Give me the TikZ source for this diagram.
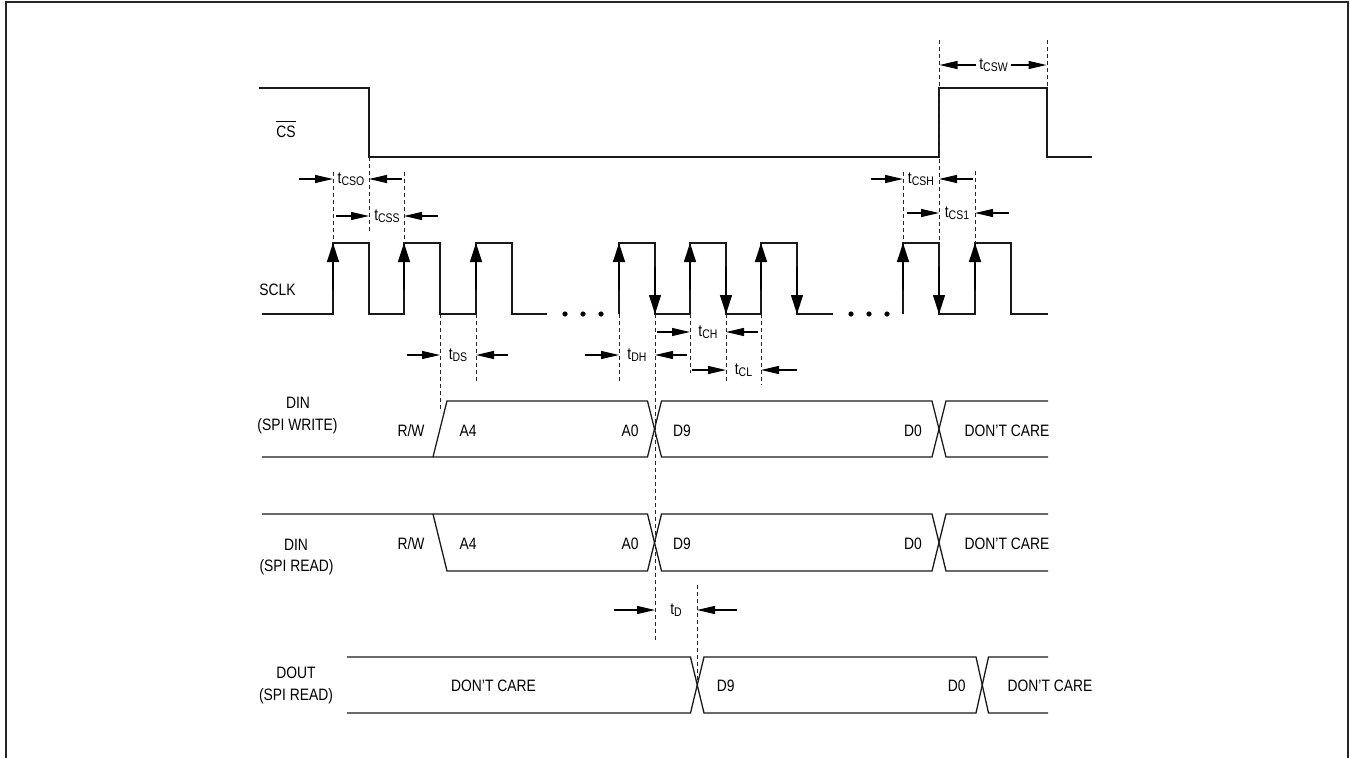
\documentclass[tikz,border=0pt]{standalone}
\usepackage{fontspec}
\setmainfont{Liberation Sans}[FakeStretch=0.84]
\usetikzlibrary{arrows.meta}
\newcommand{\tlab}[1]{t\raisebox{-2pt}{\fontsize{12.5}{14}\selectfont #1}}
\begin{document}
\begin{tikzpicture}[x=1pt,y=-1pt,
  sig/.style={line width=1.3pt, line join=miter, draw=black!90},
  dsh/.style={line width=0.9pt, dash pattern=on 4pt off 3pt, draw=black!85},
  tarr/.style={line width=1.1pt, draw=black, -{Triangle[length=18pt,width=8pt]}},
  carr/.style={line width=1.3pt, draw=black, -{Triangle[length=19pt,width=12pt]}},
  lbl/.style={font=\fontsize{16.5}{19}\selectfont, inner sep=0pt, anchor=base},
  tl/.style={font=\fontsize{16.5}{19}\selectfont, inner sep=0pt, anchor=base}
  ]
\useasboundingbox (0,0) rectangle (1350,758);
% frame
\draw[line width=2pt, draw=black!85] (6,760) -- (6,2) -- (1348,2) -- (1348,760);

% CS
\draw[sig] (259,88) -- (369,88) -- (369,157) -- (939,157) -- (939,88) -- (1047,88) -- (1047,157) -- (1092,157);
\node[lbl] (cs) at (286,137) {CS};
\draw[line width=0.9pt] ([yshift=4pt]cs.north west) -- ([yshift=4pt]cs.north east);

% SCLK
\node[lbl] (sclk) at (277.5,295) {SCLK};
\draw[sig] (262,314) -- (333,314) -- (333,243) -- (369,243) -- (369,314) -- (404,314) -- (404,243) -- (440,243) -- (440,314) -- (476,314) -- (476,243) -- (512,243) -- (512,314) -- (547,314);
\draw[sig] (619,314) -- (619,243) -- (655,243) -- (655,314) -- (690,314) -- (690,243) -- (726,243) -- (726,314) -- (761,314) -- (761,243) -- (797,243) -- (797,314) -- (833,314);
\draw[sig] (903,314) -- (903,243) -- (939,243) -- (939,314) -- (975,314) -- (975,243) -- (1011,243) -- (1011,314) -- (1048,314);
\foreach \x in {333,404,476,619,690,761,903,975} \draw[carr] (\x,290) -- (\x,243);
\foreach \x in {655,726,797,939} \draw[carr] (\x,267) -- (\x,314);
\foreach \x in {565,583,601,851,869,887} \fill (\x,314) circle (2.6);

% dashed guide lines
\draw[dsh] (333,172) -- (333,243);
\draw[dsh] (369,157) -- (369,231);
\draw[dsh] (404,172) -- (404,243);
\draw[dsh] (903,172) -- (903,243);
\draw[dsh] (939,40) -- (939,243);
\draw[dsh] (975,171) -- (975,243);
\draw[dsh] (1047,40) -- (1047,88);
\draw[dsh] (440,314) -- (440,412);
\draw[dsh] (476,314) -- (476,382);
\draw[dsh] (619,314) -- (619,382);
\draw[dsh] (655,314) -- (655,642);
\draw[dsh] (690,314) -- (690,373);
\draw[dsh] (726,314) -- (726,382);
\draw[dsh] (761,314) -- (761,385);
\draw[dsh] (697,585) -- (697,681);

% timing labels
\draw[tarr] (299,179) -- (333,179);
\node[tl] (tcso) at (351,183.5) {\tlab{CSO}};
\draw[tarr] (402,179) -- (369,179);

\draw[tarr] (336,216) -- (369,216);
\node[tl] (tcss) at (387,220.5) {\tlab{CSS}};
\draw[tarr] (438,216) -- (404,216);

\draw[tarr] (871,179) -- (903,179);
\node[tl] (tcsh) at (921,183.5) {\tlab{CSH}};
\draw[tarr] (973,179) -- (939,179);

\draw[tarr] (907,213) -- (939,213);
\node[tl] (tcs1) at (957,217.5) {\tlab{CS1}};
\draw[tarr] (1009,213) -- (975,213);

\draw[tarr] (976,65) -- (939.5,65);
\node[tl] (tcsw) at (993.5,69.5) {\tlab{CSW}};
\draw[tarr] (1011,65) -- (1046.5,65);

\draw[tarr] (407,355) -- (440,355);
\node[tl] (tds) at (458,359.5) {\tlab{DS}};
\draw[tarr] (508,355) -- (476,355);

\draw[tarr] (585,355) -- (619,355);
\node[tl] (tdh) at (637,359.5) {\tlab{DH}};
\draw[tarr] (687,355) -- (655,355);

\draw[tarr] (657,332) -- (690,332);
\node[tl] (tch) at (708,336.5) {\tlab{CH}};
\draw[tarr] (758,332) -- (726,332);

\draw[tarr] (692,370) -- (726,370);
\node[tl] (tcl) at (743.5,374.5) {\tlab{CL}};
\draw[tarr] (797,370) -- (761,370);

\draw[tarr] (614,610) -- (655,610);
\node[tl] (td) at (676,614.5) {\tlab{D}};
\draw[tarr] (737,610) -- (697,610);

% DIN (SPI WRITE)
\node[lbl] (dinw) at (298,408.5) {DIN};
\node[lbl] (dinws) at (297.5,430) {(SPI WRITE)};
\draw[sig] (262,457) -- (647.5,457) -- (661.5,401) -- (932,401) -- (946,457) -- (1048,457);
\draw[sig] (433,457) -- (447,401) -- (647.5,401) -- (661.5,457) -- (932,457) -- (946,401) -- (1048,401);
\node[lbl] at (411,436) {R/W};
\node[lbl] at (468,436) {A4};
\node[lbl] at (630,436) {A0};
\node[lbl] at (682,436) {D9};
\node[lbl] at (913,436) {D0};
\node[lbl] at (1007,436) {DON'T CARE};

% DIN (SPI READ)
\node[lbl] (dinr) at (296,550) {DIN};
\node[lbl] (dinrs) at (296.5,571.5) {(SPI READ)};
\draw[sig] (262,514) -- (647.5,514) -- (661.5,571) -- (932,571) -- (946,514) -- (1048,514);
\draw[sig] (433,514) -- (447,571) -- (647.5,571) -- (661.5,514) -- (932,514) -- (946,571) -- (1048,571);
\node[lbl] at (411,549) {R/W};
\node[lbl] at (468,549) {A4};
\node[lbl] at (630,549) {A0};
\node[lbl] at (682,549) {D9};
\node[lbl] at (913,549) {D0};
\node[lbl] at (1007,549) {DON'T CARE};

% DOUT (SPI READ)
\node[lbl] (dout) at (296,678) {DOUT};
\node[lbl] (douts) at (296,700) {(SPI READ)};
\draw[sig] (347,657) -- (690.5,657) -- (704,713) -- (976,713) -- (988.5,657) -- (1048,657);
\draw[sig] (347,713) -- (690.5,713) -- (704,657) -- (976,657) -- (988.5,713) -- (1048,713);
\node[lbl] at (493.5,691.5) {DON'T CARE};
\node[lbl] at (725.7,691.5) {D9};
\node[lbl] at (956.7,691.5) {D0};
\node[lbl] at (1050,691.5) {DON'T CARE};
\end{tikzpicture}
\end{document}
